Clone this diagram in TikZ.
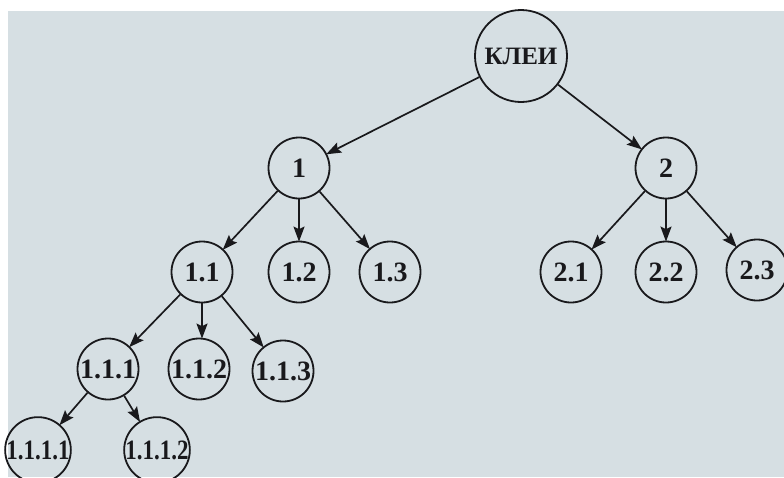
\documentclass[tikz,border=0pt]{standalone}
\usepackage{fontspec}
\setmainfont{Liberation Serif}
\usetikzlibrary{arrows.meta}
\definecolor{paper}{RGB}{214,223,227}
\definecolor{ink}{RGB}{25,25,28}
\tikzset{
  nd/.style={circle,draw=ink,line width=1.8pt,minimum size=61pt,inner sep=0pt,
    font=\fontsize{28}{28}\selectfont\bfseries,text=ink},
  root/.style={nd,minimum size=92pt,font=\fontsize{25}{25}\selectfont\bfseries},
  arr/.style={draw=ink,line width=1.7pt,-{Stealth[length=15pt,width=11pt,inset=2.5pt]},shorten >=-1pt}
}
\begin{document}
\begin{tikzpicture}[x=1pt,y=-1pt]
\useasboundingbox (0,0) rectangle (784,477);
\clip (0,0) rectangle (784,477);
\fill[white] (0,0) rectangle (784,477);
\fill[paper] (8,11) rectangle (784,477);
\node[root] (k) at (521,56) {КЛЕИ};
\node[nd] (n1) at (299,168) {1};
\node[nd] (n2) at (666,168) {2};
\node[nd] (n11) at (202,272) {1.1};
\node[nd] (n12) at (299,272) {1.2};
\node[nd] (n13) at (390,272) {1.3};
\node[nd] (n21) at (571,272) {2.1};
\node[nd] (n22) at (666,272) {2.2};
\node[nd] (n23) at (757,270) {2.3};
\node[nd] (n111) at (108,369) {1.1.1};
\node[nd] (n112) at (199,369) {1.1.2};
\node[nd] (n113) at (283,371) {1.1.3};
\node[nd] (n1111) at (38,450) {\scalebox{0.82}[1]{1.1.1.1}};
\node[nd] (n1112) at (157,450) {\scalebox{0.82}[1]{1.1.1.2}};
\draw[arr] (k) -- (n1);
\draw[arr] (k) -- (n2);
\draw[arr] (n1) -- (n11);
\draw[arr] (n1) -- (n12);
\draw[arr] (n1) -- (n13);
\draw[arr] (n2) -- (n21);
\draw[arr] (n2) -- (n22);
\draw[arr] (n2) -- (n23);
\draw[arr] (n11) -- (n111);
\draw[arr] (n11.south) -- (n11.south |- n112.north);
\draw[arr] (n11) -- (n113);
\draw[arr] (n111) -- (n1111);
\draw[arr] (n111) -- (n1112);
\end{tikzpicture}
\end{document}
